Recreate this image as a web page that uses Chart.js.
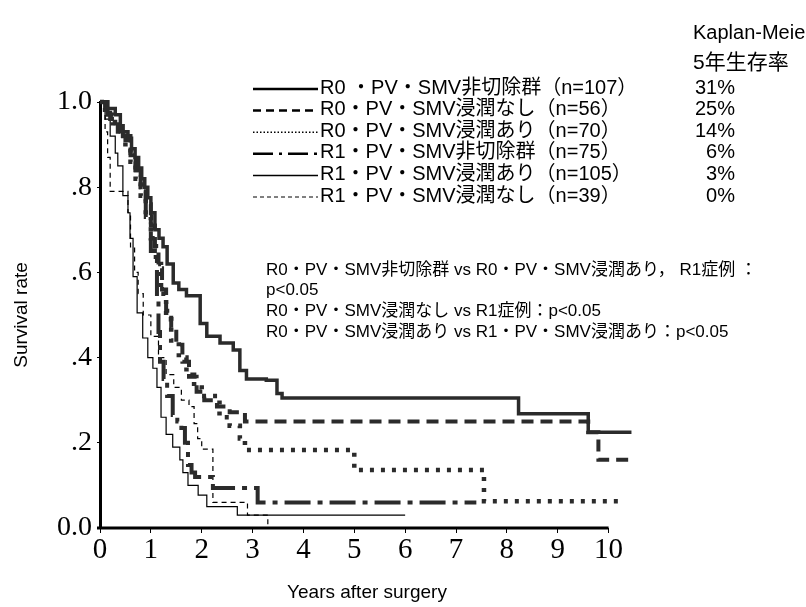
<!DOCTYPE html>
<html>
<head>
<meta charset="utf-8">
<script src="https://cdn.jsdelivr.net/npm/chart.js@4.4.1/dist/chart.umd.min.js"></script>
<style>
html, body { margin: 0; padding: 0; background: #fff; }
</style>
</head>
<body>
<canvas id="kmChart" width="806" height="607"></canvas>
<script>
// 生存曲線（年, 生存率）
const tR0Non = [0, 0.12, 0.3, 0.4, 0.55, 0.62, 0.69, 0.76, 0.82, 0.88, 0.94, 1.0, 1.08, 1.16, 1.24, 1.32, 1.44, 1.55, 1.7, 1.97, 2.1, 2.36, 2.62, 2.75, 2.88, 3.27, 3.48, 3.58, 8.23, 9.6, 10.45];
const sR0Non = [1.0, 0.985, 0.97, 0.93, 0.915, 0.89, 0.87, 0.845, 0.82, 0.8, 0.775, 0.74, 0.70, 0.68, 0.66, 0.62, 0.575, 0.56, 0.545, 0.48, 0.45, 0.434, 0.418, 0.37, 0.35, 0.347, 0.316, 0.305, 0.268, 0.225, 0.225];

const tR0Nashi = [0, 0.1, 0.2, 0.35, 0.5, 0.6, 0.7, 0.8, 0.9, 1.0, 1.08, 1.15, 1.22, 1.3, 1.4, 1.5, 1.62, 1.75, 1.9, 2.05, 2.3, 2.55, 2.85, 9.6, 9.8, 10.4];
const sR0Nashi = [1.0, 0.98, 0.96, 0.93, 0.91, 0.875, 0.84, 0.8, 0.76, 0.71, 0.66, 0.61, 0.56, 0.51, 0.47, 0.43, 0.39, 0.355, 0.32, 0.3, 0.285, 0.272, 0.25, 0.225, 0.16, 0.16];

const tR0Ari = [0, 0.1, 0.25, 0.4, 0.5, 0.6, 0.7, 0.8, 0.9, 1.0, 1.1, 1.2, 1.3, 1.4, 1.55, 1.7, 1.85, 2.0, 2.35, 2.55, 2.75, 2.85, 5.0, 7.55, 10.3];
const sR0Ari = [1.0, 0.97, 0.95, 0.92, 0.89, 0.86, 0.82, 0.78, 0.73, 0.68, 0.62, 0.55, 0.49, 0.44, 0.40, 0.36, 0.33, 0.31, 0.26, 0.24, 0.21, 0.183, 0.136, 0.063, 0.063];

const tR1Non = [0, 0.15, 0.3, 0.45, 0.6, 0.7, 0.8, 0.9, 1.0, 1.12, 1.15, 1.18, 1.25, 1.32, 1.43, 1.52, 1.6, 1.67, 1.73, 1.8, 1.87, 2.22, 3.1, 7.4];
const sR1Non = [1.0, 0.97, 0.95, 0.92, 0.88, 0.84, 0.79, 0.73, 0.65, 0.535, 0.46, 0.39, 0.35, 0.31, 0.265, 0.25, 0.235, 0.2, 0.148, 0.13, 0.12, 0.094, 0.06, 0.06];

const tR1Ari = [0, 0.1, 0.2, 0.3, 0.35, 0.45, 0.55, 0.59, 0.65, 0.73, 0.84, 0.94, 1.04, 1.12, 1.2, 1.3, 1.43, 1.57, 1.63, 1.73, 1.93, 2.1, 2.7, 6.0];
const sR1Ari = [1.0, 0.96, 0.92, 0.88, 0.85, 0.78, 0.74, 0.68, 0.59, 0.505, 0.446, 0.40, 0.375, 0.33, 0.26, 0.22, 0.19, 0.16, 0.13, 0.10, 0.077, 0.05, 0.03, 0.03];

const tR1Nashi = [0, 0.1, 0.15, 0.2, 0.55, 0.6, 0.68, 0.75, 0.85, 1.0, 1.15, 1.3, 1.45, 1.6, 1.75, 1.85, 1.92, 2.0, 2.22, 2.9, 3.3];
const sR1Nashi = [1.0, 0.93, 0.87, 0.79, 0.74, 0.66, 0.6, 0.55, 0.5, 0.45, 0.4, 0.36, 0.33, 0.3, 0.285, 0.245, 0.21, 0.185, 0.06, 0.03, 0.0];

// 凡例
const groupLabels = [
    'R0 ・PV・SMV非切除群（n=107）',
    'R0・PV・SMV浸潤なし（n=56）',
    'R0・PV・SMV浸潤あり（n=70）',
    'R1・PV・SMV非切除群（n=75）',
    'R1・PV・SMV浸潤あり（n=105）',
    'R1・PV・SMV浸潤なし（n=39）'
];
const fiveYearRates = ['31%', '25%', '14%', '6%', '3%', '0%'];
const pNotes = [
    'R0・PV・SMV非切除群 vs R0・PV・SMV浸潤あり， R1症例 ：',
    'p<0.05',
    'R0・PV・SMV浸潤なし vs R1症例：p<0.05',
    'R0・PV・SMV浸潤あり vs R1・PV・SMV浸潤あり：p<0.05'
];

// 軸目盛
const xTicks = [0, 1, 2, 3, 4, 5, 6, 7, 8, 9, 10];
const yTicks = [0, 0.2, 0.4, 0.6, 0.8, 1.0];
const yTickLabels = ['0.0', '.2', '.4', '.6', '.8', '1.0'];

const sansFont = '"Liberation Sans", "Noto Sans CJK JP", sans-serif';
const serifFont = '"Liberation Serif", "Times New Roman", serif';

function toPoints(ts, ss) {
    return ts.map((t, i) => ({ x: t, y: ss[i] }));
}

// 線のスタイル（曲線用 / 凡例用）
const curveStyles = [
    { width: 3.5, dash: [], color: '#2b2b2b' },
    { width: 4, dash: [12, 7], color: '#2b2b2b' },
    { width: 4.5, dash: [4, 7], color: '#2b2b2b' },
    { width: 4, dash: [26, 7, 5, 7], color: '#2b2b2b' },
    { width: 1.2, dash: [], color: '#000' },
    { width: 1.2, dash: [5, 4], color: '#000' }
];
const legendStyles = [
    { width: 2.5, dash: [] },
    { width: 2.5, dash: [8, 5] },
    { width: 1.5, dash: [1.5, 2] },
    { width: 2.5, dash: [20, 6, 3, 6] },
    { width: 1.5, dash: [] },
    { width: 1, dash: [4, 3] }
];

const seriesPoints = [
    toPoints(tR0Non, sR0Non),
    toPoints(tR0Nashi, sR0Nashi),
    toPoints(tR0Ari, sR0Ari),
    toPoints(tR1Non, sR1Non),
    toPoints(tR1Ari, sR1Ari),
    toPoints(tR1Nashi, sR1Nashi)
];

const datasets = seriesPoints.map((pts, i) => ({
    label: groupLabels[i],
    data: pts,
    stepped: 'before',
    borderColor: curveStyles[i].color,
    borderWidth: curveStyles[i].width,
    borderDash: curveStyles[i].dash,
    borderCapStyle: 'butt',
    borderJoinStyle: 'miter',
    pointRadius: 0,
    fill: false,
    clip: false
}));

// x軸線（0〜10年）と凡例・注記を描く
const annotationPlugin = {
    id: 'kmAnnotations',
    afterDraw(chart) {
        const ctx = chart.ctx;
        const xs = chart.scales.x;
        const ys = chart.scales.y;
        ctx.save();

        // x軸
        ctx.strokeStyle = '#000';
        ctx.lineWidth = 3;
        ctx.beginPath();
        ctx.moveTo(xs.getPixelForValue(0) - 3, ys.getPixelForValue(0));
        ctx.lineTo(xs.getPixelForValue(10), ys.getPixelForValue(0));
        ctx.stroke();

        ctx.fillStyle = '#000';
        ctx.textBaseline = 'middle';

        ctx.font = '20px ' + sansFont;
        ctx.textAlign = 'left';
        ctx.fillText('Kaplan-Meier', 693, 33);
        ctx.font = '21px ' + sansFont;
        ctx.fillText('5年生存率', 693, 63);

        groupLabels.forEach((label, i) => {
            const y = 88 + i * 21.6;
            ctx.lineWidth = legendStyles[i].width;
            ctx.setLineDash(legendStyles[i].dash);
            ctx.beginPath();
            ctx.moveTo(253, y + 1);
            ctx.lineTo(318, y + 1);
            ctx.stroke();
            ctx.setLineDash([]);
            ctx.font = '20px ' + sansFont;
            ctx.textAlign = 'left';
            ctx.fillText(label, 320, y);
            ctx.textAlign = 'right';
            ctx.fillText(fiveYearRates[i], 735, y);
        });

        ctx.font = '17px ' + sansFont;
        ctx.textAlign = 'left';
        const noteY = [270, 290, 311, 332];
        pNotes.forEach((note, i) => ctx.fillText(note, 266, noteY[i]));

        ctx.restore();
    }
};

new Chart(document.getElementById('kmChart'), {
    type: 'line',
    data: { datasets },
    options: {
        responsive: false,
        animation: false,
        layout: { padding: { left: 0, top: 102, right: 172, bottom: 0 } },
        plugins: {
            legend: { display: false },
            tooltip: { enabled: false }
        },
        scales: {
            x: {
                type: 'linear',
                min: 0,
                max: 10.5,
                afterBuildTicks: scale => { scale.ticks = xTicks.map(v => ({ value: v })); },
                afterFit: scale => { scale.height = 79; },
                border: { display: false },
                grid: { drawOnChartArea: false, tickLength: 5, color: '#000', lineWidth: 1 },
                ticks: {
                    color: '#000',
                    padding: 0,
                    maxRotation: 0,
                    font: { family: serifFont, size: 29 }
                },
                title: {
                    display: true,
                    text: 'Years after surgery',
                    color: '#000',
                    padding: { top: 0, bottom: 3 },
                    font: { family: sansFont, size: 19 }
                }
            },
            y: {
                type: 'linear',
                min: 0,
                max: 1.0,
                afterBuildTicks: scale => { scale.ticks = yTicks.map(v => ({ value: v })); },
                afterFit: scale => { scale.width = 100; },
                border: { display: true, width: 3, color: '#000' },
                grid: { drawOnChartArea: false, tickLength: 3, color: '#000', lineWidth: 1 },
                ticks: {
                    color: '#000',
                    padding: 5,
                    font: { family: serifFont, size: 28 },
                    callback: v => yTickLabels[yTicks.indexOf(v)]
                },
                title: {
                    display: true,
                    text: 'Survival rate',
                    color: '#000',
                    padding: { top: 10, bottom: 0 },
                    font: { family: sansFont, size: 19 }
                }
            }
        }
    },
    plugins: [annotationPlugin]
});
</script>
</body>
</html>
